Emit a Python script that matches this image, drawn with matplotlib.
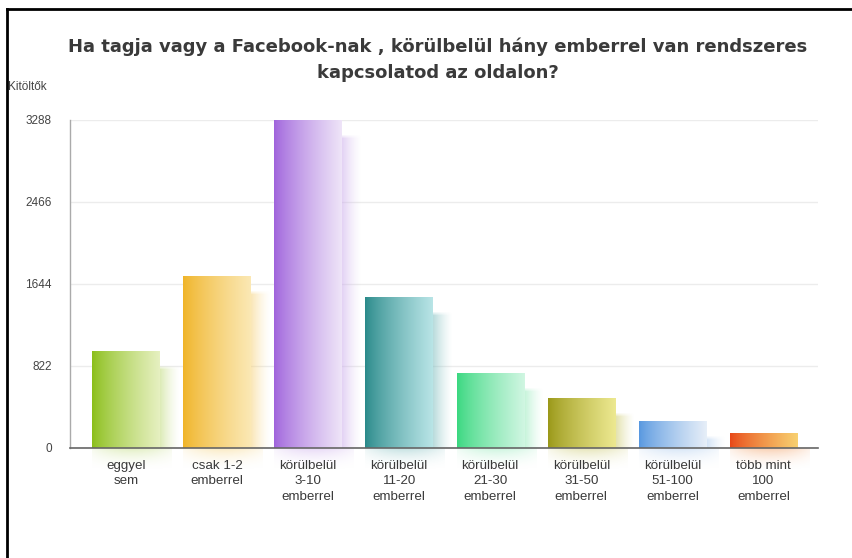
import numpy as np
import matplotlib
matplotlib.use("Agg")
import matplotlib.pyplot as plt
from matplotlib.colors import to_rgb
from matplotlib.lines import Line2D

categories = ["eggyel\nsem", "csak 1-2\nemberrel", "körülbelül\n3-10\nemberrel",
              "körülbelül\n11-20\nemberrel", "körülbelül\n21-30\nemberrel",
              "körülbelül\n31-50\nemberrel", "körülbelül\n51-100\nemberrel",
              "több mint\n100\nemberrel"]
values = [972, 1724, 3288, 1504, 750, 500, 267, 143]
yticks = [0, 822, 1644, 2466, 3288]
title = "Ha tagja vagy a Facebook-nak , körülbelül hány emberrel van rendszeres\nkapcsolatod az oldalon?"
ylabel = "Kitöltők"
colors_left = ["#8bbf1a", "#f0b428", "#a064dc", "#2a8a8a", "#3ad880", "#9a9818", "#5898e0", "#e84818"]
colors_right = ["#e6f0c0", "#fbe8b4", "#eee4f8", "#b8e4e6", "#d0f6e2", "#ece890", "#e6eef8", "#f8d070"]

W, H = 853, 558
fig = plt.figure(figsize=(W / 100, H / 100), dpi=100)
fig.patch.set_facecolor("white")

ax_l, ax_r, ax_b, ax_t = 70, 818, 448, 120
ax = fig.add_axes([ax_l / W, 1 - ax_b / H, (ax_r - ax_l) / W, (ax_b - ax_t) / H])
ax.set_facecolor("white")

n = len(values)
x = np.arange(n)
bw = 0.74
xlim = (-0.615, 7.60)
ylim = (0, 3288)
px_x = (ax_r - ax_l) / (xlim[1] - xlim[0])  # pixels per x unit
px_y = (ax_b - ax_t) / (ylim[1] - ylim[0])

for i, v in enumerate(values):
    c0 = np.array(to_rgb(colors_left[i]))
    c1 = np.array(to_rgb(colors_right[i]))
    N = 60
    t = np.linspace(0, 1, N)
    # shadow (visible strip to the right of the bar, lowered top, fading out)
    sx0 = x[i] + bw / 2 - 2 / px_x
    sx1 = x[i] + bw / 2 + 20 / px_x
    stop = max(v - 14 / px_y, 0)
    spx = max(stop * px_y, 1)
    M2 = max(int(spx), 2)
    sh = np.zeros((M2, N, 4))
    sh[:, :, :3] = c1 * 0.55 + c0 * 0.45
    rows = np.arange(M2)[:, None]
    topfade = np.clip(rows / 4.0, 0, 1)
    sh[:, :, 3] = 0.6 * ((1 - t) ** 1.4)[None, :] * topfade
    ax.imshow(sh, extent=[sx0, sx1, 0, stop], aspect="auto", zorder=1,
              interpolation="bilinear", origin="upper")
    # glow below baseline
    M = 30
    g = np.zeros((M, N, 4))
    s = np.linspace(0, 1, M)[:, None]
    g[:, :, :3] = c0 * 0.5 + c1 * 0.5
    g[:, :, 3] = 0.4 * (1 - s) ** 2 * np.sin(np.pi * np.linspace(0.1, 0.9, N))[None, :]
    im = ax.imshow(g, extent=[x[i] - bw / 2, x[i] + bw / 2 + 12 / px_x, -24 / px_y, 0],
                   aspect="auto", zorder=1, interpolation="bilinear")
    im.set_clip_on(False)
    # main bar with horizontal gradient
    grad = np.zeros((1, N, 3))
    tt = t ** 0.8
    grad[0] = c0[None, :] * (1 - tt[:, None]) + c1[None, :] * tt[:, None]
    ax.imshow(grad, extent=[x[i] - bw / 2, x[i] + bw / 2, 0, v], aspect="auto",
              zorder=2, interpolation="bilinear")

ax.set_xlim(*xlim)
ax.set_ylim(*ylim)
ax.set_yticks(yticks)
ax.set_yticklabels([str(t) for t in yticks])
ax.yaxis.grid(True, color="#ececec", linewidth=1)
ax.set_axisbelow(True)
ax.set_xticks(x)
ax.set_xticklabels([])
ax.tick_params(axis="both", length=0)
ax.tick_params(axis="y", pad=13, labelsize=8.5, labelcolor="#444444")
for lab in ax.get_yticklabels():
    lab.set_fontfamily(["Liberation Sans", "DejaVu Sans"])
for sp in ["top", "right"]:
    ax.spines[sp].set_visible(False)
ax.spines["left"].set_color("#aaaaaa")
ax.spines["left"].set_linewidth(1)
ax.spines["bottom"].set_color("#666666")
ax.spines["bottom"].set_linewidth(1.2)
ax.spines["bottom"].set_zorder(5)

# category labels
for i, lab in enumerate(categories):
    ax.text(x[i], -12 / px_y, lab, ha="center", va="top", fontsize=9.6,
            color="#3a3a3a", linespacing=1.38,
            family=["Liberation Sans", "DejaVu Sans"], clip_on=False)

# title
fig.text(438 / W, 1 - 38 / H, title, ha="center", va="top", fontsize=13,
         fontweight="bold", color="#3a3a3a", linespacing=1.5,
         family=["DejaVu Sans"])
# y label
fig.text(8 / W, 1 - 87 / H, ylabel, ha="left", va="center", fontsize=8.5,
         color="#444444", family=["Liberation Sans", "DejaVu Sans"])

# frame lines (left and top)
fig.add_artist(Line2D([7 / W, 7 / W], [0, 1 - 9 / H], transform=fig.transFigure,
                      color="black", linewidth=2))
fig.add_artist(Line2D([7 / W, 1], [1 - 9 / H, 1 - 9 / H], transform=fig.transFigure,
                      color="black", linewidth=2))

fig.savefig("out.png", dpi=100, facecolor="white")
